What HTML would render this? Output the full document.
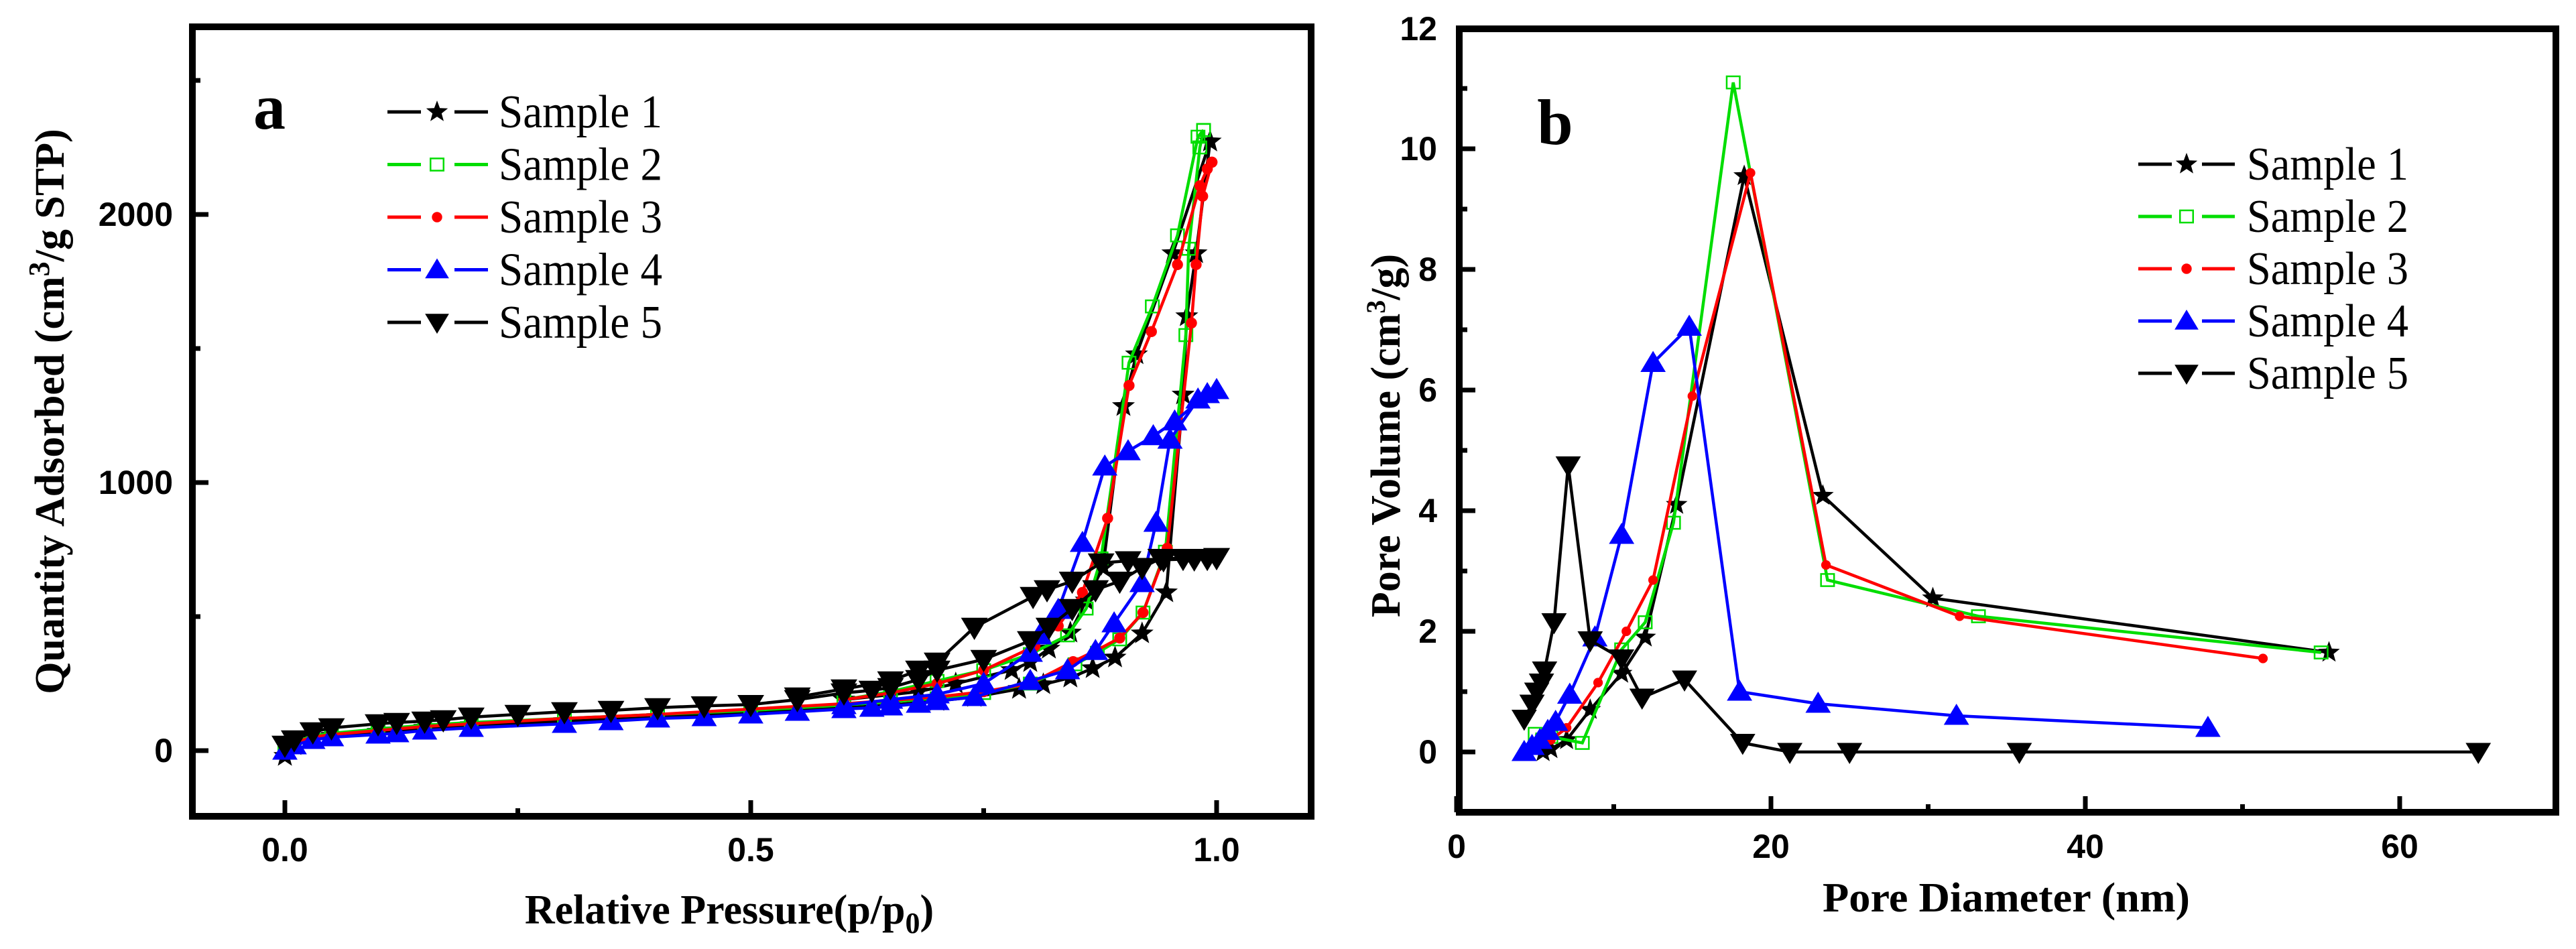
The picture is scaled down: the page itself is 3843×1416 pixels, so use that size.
<!DOCTYPE html>
<html><head><meta charset="utf-8"><style>
html,body{margin:0;padding:0;background:#fff;}
svg{display:block;}
text{font-family:"Liberation Sans",Arial,sans-serif;}
.serif{font-family:"Liberation Serif","Times New Roman",serif;}
</style></head><body>
<svg id="fig" width="3843" height="1416" viewBox="0 0 3843 1416" xmlns="http://www.w3.org/2000/svg">
<g id="pa"></g>
<g id="pb"></g>
</svg>
<script>
// ---------- data: panel a (relative pressure, quantity adsorbed) ----------
const seriesNames = ["Sample 1","Sample 2","Sample 3","Sample 4","Sample 5"];
const aXTicks = [0.0,0.5,1.0];
const aXTickLabels = ["0.0","0.5","1.0"];
const aYTicks = [0,1000,2000];
const aYTickLabels = ["0","1000","2000"];
const s1AdsP = [0,0.01,0.03,0.05,0.1,0.12,0.15,0.2,0.3,0.4,0.5,0.6,0.65,0.7,0.74,0.788,0.814,0.843,0.867,0.891,0.92,0.946,0.964,0.968,0.978,0.993];
const s1AdsQ = [-20,20,45,55,70,75,85,95,110,125,140,160,170,185,200,230,247,272,307,347,437,590,1328,1620,1855,2272];
const s1DesP = [0.993,0.953,0.914,0.9,0.878,0.86,0.843,0.82,0.8,0.78,0.72,0.68,0.6];
const s1DesQ = [2272,1855,1478,1285,683,560,440,380,330,300,250,220,190];
const s2AdsP = [0,0.01,0.03,0.05,0.1,0.15,0.2,0.3,0.4,0.5,0.6,0.7,0.75,0.8,0.848,0.872,0.896,0.921,0.945,0.967,0.97,0.982,0.986];
const s2AdsQ = [10,30,55,65,80,95,105,120,135,150,170,195,215,250,322,365,415,515,742,1550,1872,2250,2315];
const s2DesP = [0.986,0.98,0.958,0.931,0.906,0.876,0.86,0.84,0.8,0.75,0.7,0.65,0.6];
const s2DesQ = [2315,2290,1922,1657,1447,717,530,430,360,300,260,220,190];
const s3AdsP = [0,0.01,0.03,0.05,0.1,0.15,0.2,0.3,0.4,0.5,0.6,0.7,0.75,0.8,0.846,0.87,0.896,0.921,0.947,0.973,0.978,0.985,0.995];
const s3AdsQ = [5,30,50,60,75,90,100,120,135,155,175,200,220,250,332,372,420,515,755,1595,1813,2068,2195];
const s3DesP = [0.995,0.99,0.982,0.958,0.93,0.906,0.883,0.856,0.83,0.805,0.75,0.7,0.65,0.6];
const s3DesQ = [2195,2170,2107,1813,1563,1362,867,590,465,390,300,250,215,190];
const s4AdsP = [0,0.01,0.03,0.05,0.1,0.12,0.15,0.2,0.3,0.35,0.4,0.45,0.5,0.55,0.6,0.63,0.65,0.68,0.7,0.74,0.8,0.84,0.87,0.89,0.92,0.935,0.95,0.98,1.0];
const s4AdsQ = [0,20,40,50,60,65,75,85,100,110,120,125,135,145,155,160,165,175,185,200,260,300,372,475,625,850,1160,1310,1345];
const s4DesP = [1.0,0.99,0.955,0.932,0.905,0.88,0.856,0.83,0.81,0.8,0.75,0.7,0.65,0.6];
const s4DesQ = [1345,1330,1228,1173,1117,1060,775,525,430,365,250,210,190,170];
const s5AdsP = [0,0.01,0.03,0.05,0.1,0.12,0.15,0.17,0.2,0.25,0.3,0.35,0.4,0.45,0.5,0.55,0.6,0.63,0.65,0.68,0.7,0.75,0.8,0.82,0.845,0.87,0.896,0.92,0.94,0.964,0.99,1.0];
const s5AdsQ = [20,40,70,85,100,105,110,115,125,135,145,150,160,167,172,190,215,225,235,265,300,340,410,460,530,600,632,683,717,717,717,720];
const s5DesP = [1.0,0.976,0.943,0.905,0.876,0.845,0.818,0.803,0.74,0.7,0.68,0.65,0.6,0.55];
const s5DesQ = [720,715,712,708,700,632,600,575,460,330,300,260,230,200];

// ---------- data: panel b (pore diameter, pore volume) ----------
const bXTicks = [0,20,40,60];
const bXTickLabels = ["0","20","40","60"];
const bYTicks = [0,2,4,6,8,10,12];
const bYTickLabels = ["0","2","4","6","8","10","12"];
const b1D = [5.5,6,7,8.5,10.5,12,14,18.3,23.3,30.3,55.5];
const b1V = [0,0.05,0.2,0.7,1.3,1.9,4.1,9.55,4.25,2.55,1.65];
const b2D = [5,6,8,10.5,12,13.8,17.6,23.6,33.2,55];
const b2V = [0.3,0.25,0.15,1.7,2.15,3.8,11.1,2.85,2.25,1.65];
const b3D = [5,6,7,9,10.8,12.5,15,18.7,23.5,32,51.3];
const b3V = [0.05,0.2,0.4,1.15,2.0,2.85,5.9,9.6,3.1,2.25,1.55];
const b4D = [4.3,4.8,5.3,5.8,6.3,7.2,8.8,10.5,12.5,14.8,18,23,31.8,47.8];
const b4V = [0,0.1,0.2,0.35,0.5,0.95,1.9,3.6,6.45,7.05,1.0,0.8,0.6,0.4];
const b5D = [4.3,4.8,5.1,5.4,5.6,6.2,7.1,8.5,10.5,11.8,14.5,18.2,21.2,25,35.8,65];
const b5V = [0.55,0.8,1.0,1.15,1.35,2.15,4.75,1.85,1.55,0.9,1.2,0.15,0.0,0.0,0.0,0.0];

const NS="http://www.w3.org/2000/svg";
const colors=["#000000","#00dd00","#ff0000","#0000ff","#000000"];
const markers=["star","square","circle","up","down"];
function mk(tag,attrs,parent){const e=document.createElementNS(NS,tag);for(const k in attrs)e.setAttribute(k,attrs[k]);parent.appendChild(e);return e;}
function marker(type,x,y,s,color,parent){
  let e;
  if(type==="star"){let pts=[];for(let i=0;i<10;i++){const r=i%2?s*0.42:s;const a=-Math.PI/2+i*Math.PI/5;pts.push((x+r*Math.cos(a)).toFixed(1)+","+(y+r*Math.sin(a)).toFixed(1));}
    e=mk("polygon",{points:pts.join(" "),fill:color},parent);}
  else if(type==="square"){e=mk("rect",{x:x-s*0.75,y:y-s*0.7,width:s*1.5,height:s*1.4,fill:"#fff","fill-opacity":"0",stroke:color,"stroke-width":2.5},parent);}
  else if(type==="circle"){e=mk("circle",{cx:x,cy:y,r:s*0.55,fill:color},parent);}
  else if(type==="up"){e=mk("polygon",{points:`${x},${y-s} ${x-s*1.05},${y+s*0.75} ${x+s*1.05},${y+s*0.75}`,fill:color},parent);}
  else {e=mk("polygon",{points:`${x},${y+s} ${x-s*1.05},${y-s*0.75} ${x+s*1.05},${y-s*0.75}`,fill:color},parent);}
  
  
  return e;
}
function frame(g,L,T,R,B){const r=mk("rect",{x:L,y:T,width:R-L,height:B-T,fill:"none",stroke:"#000","stroke-width":10},g);
  }
function txt(g,s,x,y,o,name){const t=mk("text",o,g);t.setAttribute("x",x);t.setAttribute("y",y);t.textContent=s;
  return t;}

// ================= PANEL A =================
(function(){
const g=document.getElementById("pa");
const L=287,T=40,R=1956,B=1218;
const X=v=>425+v*1390, Y=v=>1120-v*0.4;
frame(g,L,T,R,B);
[0,0.25,0.5,0.75,1.0].forEach((v,i)=>{const len=(i%2)?12:24;const t=mk("line",{x1:X(v),x2:X(v),y1:B,y2:B-len,stroke:"#000","stroke-width":7},g);
  });
[0,500,1000,1500,2000,2500].forEach((v,i)=>{const len=(i%2)?12:24;const t=mk("line",{x1:L,x2:L+len,y1:Y(v),y2:Y(v),stroke:"#000","stroke-width":7},g);
  });
aXTicks.forEach((v,i)=>txt(g,aXTickLabels[i],X(v),1285,{"font-size":50,"font-weight":"bold","text-anchor":"middle"},"x-tick-label"));
aYTicks.forEach((v,i)=>txt(g,aYTickLabels[i],258,Y(v)+17,{"font-size":50,"font-weight":"bold","text-anchor":"end"},"y-tick-label"));
const xt=txt(g,"",1088,1378,{"font-size":62,"font-weight":"bold","text-anchor":"middle",class:"serif"},"x-axis-title");
xt.innerHTML='Relative Pressure(p/p<tspan font-size="44" dy="14">0</tspan><tspan dy="-14">)</tspan>';
const yt=txt(g,"",0,0,{"font-size":62,"font-weight":"bold","text-anchor":"middle",class:"serif",transform:"translate(95,614) rotate(-90)"},"y-axis-title");
yt.innerHTML='Quantity Adsorbed (cm<tspan font-size="44" dy="-22">3</tspan><tspan dy="22">/g STP)</tspan>';
txt(g,"a",402,192,{"font-size":96,"font-weight":"bold",class:"serif","text-anchor":"middle"},"panel-label-a");
const ads=[[s1AdsP,s1AdsQ],[s2AdsP,s2AdsQ],[s3AdsP,s3AdsQ],[s4AdsP,s4AdsQ],[s5AdsP,s5AdsQ]];
const des=[[s1DesP,s1DesQ],[s2DesP,s2DesQ],[s3DesP,s3DesQ],[s4DesP,s4DesQ],[s5DesP,s5DesQ]];
const sizes=[18,13,15,18,19];
for(let k=0;k<5;k++){
  const sg=mk("g",{},g);
  [ads[k],des[k]].forEach((br,bi)=>{const pts=br[0].map((p,i)=>X(p).toFixed(1)+","+Y(br[1][i]).toFixed(1)).join(" ");
    const pl=mk("polyline",{points:pts,fill:"none",stroke:colors[k],"stroke-width":4.5},sg);
    
    br[0].forEach((p,i)=>marker(markers[k],X(p),Y(br[1][i]),sizes[k],colors[k],sg));});
}
const lg=mk("g",{},g);
for(let k=0;k<5;k++){const y=167+k*78.5;
  const e=mk("g",{},lg);
  mk("line",{x1:578,x2:628,y1:y,y2:y,stroke:colors[k],"stroke-width":5},e);
  mk("line",{x1:678,x2:728,y1:y,y2:y,stroke:colors[k],"stroke-width":5},e);
  marker(markers[k],652,y,[17,13,14,17,17][k],colors[k],e);
  txt(e,seriesNames[k],744,y+23,{"font-size":70,class:"serif",textLength:244,lengthAdjust:"spacingAndGlyphs"},"legend-label");}
})();

// ================= PANEL B =================
(function(){
const g=document.getElementById("pb");
const L=2177,T=43,R=3813,B=1212;
const X=v=>2173+v*23.45, Y=v=>1122-v*90;
frame(g,L,T,R,B);
[0,10,20,30,40,50,60,70].forEach((v,i)=>{if(X(v)>R-5)return;const len=(i%2)?12:24;const t=mk("line",{x1:X(v),x2:X(v),y1:B,y2:B-len,stroke:"#000","stroke-width":7},g);
  });
[0,1,2,3,4,5,6,7,8,9,10,11].forEach((v,i)=>{const len=(i%2)?12:24;const t=mk("line",{x1:L,x2:L+len,y1:Y(v),y2:Y(v),stroke:"#000","stroke-width":7},g);
  });
bXTicks.forEach((v,i)=>txt(g,bXTickLabels[i],X(v),1280,{"font-size":50,"font-weight":"bold","text-anchor":"middle"},"x-tick-label"));
bYTicks.forEach((v,i)=>txt(g,bYTickLabels[i],2144,Math.max(Y(v)+17,60),{"font-size":50,"font-weight":"bold","text-anchor":"end"},"y-tick-label"));
txt(g,"Pore Diameter (nm)",2993,1360,{"font-size":62,"font-weight":"bold","text-anchor":"middle",class:"serif",textLength:548,lengthAdjust:"spacingAndGlyphs"},"x-axis-title");
const yt=txt(g,"",0,0,{"font-size":62,"font-weight":"bold","text-anchor":"middle",class:"serif",transform:"translate(2088,650) rotate(-90)"},"y-axis-title");
yt.innerHTML='Pore Volume (cm<tspan font-size="40" dy="-22">3</tspan><tspan dy="22">/g)</tspan>';
txt(g,"b",2320,215,{"font-size":96,"font-weight":"bold",class:"serif","text-anchor":"middle"},"panel-label-b");
const D=[b1D,b2D,b3D,b4D,b5D], V=[b1V,b2V,b3V,b4V,b5V];
const sizes=[17,13,13,18,18];
for(let k=0;k<5;k++){
  const sg=mk("g",{},g);
  const pl=mk("polyline",{points:D[k].map((d,i)=>X(d).toFixed(1)+","+Y(V[k][i]).toFixed(1)).join(" "),fill:"none",stroke:colors[k],"stroke-width":4.5},sg);
  
  D[k].forEach((d,i)=>marker(markers[k],X(d),Y(V[k][i]),sizes[k],colors[k],sg));
}
const lg=mk("g",{},g);
for(let k=0;k<5;k++){const y=245+k*78;
  const e=mk("g",{},lg);
  mk("line",{x1:3190,x2:3240,y1:y,y2:y,stroke:colors[k],"stroke-width":5},e);
  mk("line",{x1:3285,x2:3334,y1:y,y2:y,stroke:colors[k],"stroke-width":5},e);
  marker(markers[k],3262,y,[17,13,14,17,17][k],colors[k],e);
  txt(e,seriesNames[k],3352,y+23,{"font-size":70,class:"serif",textLength:241,lengthAdjust:"spacingAndGlyphs"},"legend-label");}
})();
</script>
</body></html>
